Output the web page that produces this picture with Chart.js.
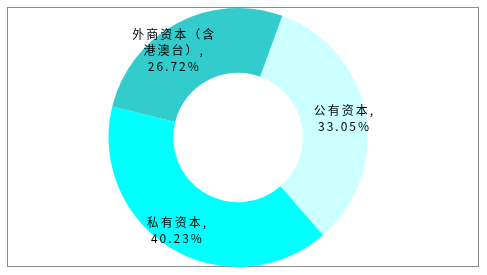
<!DOCTYPE html>
<html>
<head>
<meta charset="utf-8">
<script src="https://cdn.jsdelivr.net/npm/chart.js@4/dist/chart.umd.min.js"></script>
<style>
  html, body { margin: 0; padding: 0; background: #fff; }
  #wrap { position: relative; width: 487px; height: 275px; }
  #frame { position: absolute; left: 7px; top: 7px; width: 470px; height: 258px; border: 1px solid #8c8c8c; }
  #chart { position: absolute; left: 0; top: 0; }
</style>
</head>
<body>
<div id="wrap">
  <div id="frame"></div>
  <canvas id="chart" width="487" height="275"></canvas>
</div>
<script>
// data
let names = ['公有资本', '私有资本', '外商资本（含港澳台）']
let shares = [33.05, 40.23, 26.72]
let colors = ['#ccffff', '#00ffff', '#33cccc']
// label text split the way the picture wraps it
let labelLines = [
    ['公有资本,', '33.05%'],
    ['私有资本,', '40.23%'],
    ['外商资本（含', '港澳台）,', '26.72%']
]
// nudge of each label away from the arc middle
let labelNudge = [[11, -1], [-10, 10], [-18, -1]]

/* <><><><><><><><><Labels On Slices><><><><><><><><> */
let sliceLabels = {
    id: 'sliceLabels',
    afterDatasetsDraw(chart) {
        let ctx = chart.ctx
        let meta = chart.getDatasetMeta(0)
        ctx.save()
        ctx.font = '12px "Noto Sans CJK SC"'
        ctx.letterSpacing = '2px'
        ctx.fillStyle = '#000'
        ctx.textAlign = 'center'
        ctx.textBaseline = 'middle'
        meta.data.forEach((arc, i) => {
            let p = arc.tooltipPosition()
            let lines = labelLines[i]
            let lh = 16
            let y0 = p.y + labelNudge[i][1] - (lines.length - 1) * lh / 2
            lines.forEach((t, k) => {
                ctx.fillText(t, p.x + labelNudge[i][0], y0 + k * lh)
            })
        })
        ctx.restore()
    }
}

new Chart(document.getElementById('chart'), {
    type: 'doughnut',
    data: {
        labels: names,
        datasets: [{
            data: shares,
            backgroundColor: colors,
            borderWidth: 0
        }]
    },
    options: {
        responsive: false,
        animation: false,
        rotation: 20,
        cutout: '50%',
        layout: { padding: { top: 8, bottom: 8, left: 0, right: 11 } },
        plugins: {
            legend: { display: false },
            tooltip: { enabled: false }
        }
    },
    plugins: [sliceLabels]
})
</script>
</body>
</html>
